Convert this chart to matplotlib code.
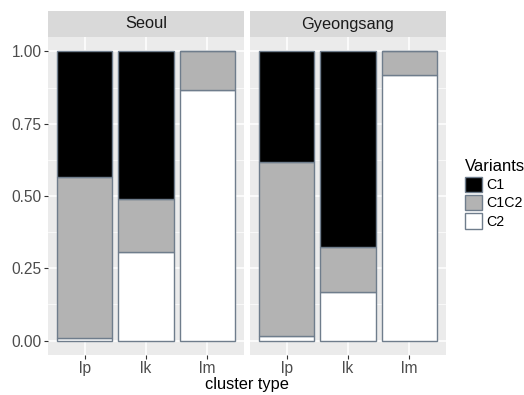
from matplotlib import pyplot as plt
from matplotlib.patches import Patch
import numpy as np

plt.rcParams['font.family'] = ['Liberation Sans', 'DejaVu Sans']

regions = ["Seoul", "Gyeongsang"]
clusters = ["lp", "lk", "lm"]
variants = ["C1", "C1C2", "C2"]
colors = {"C1": "#000000", "C1C2": "#B3B3B3", "C2": "#FFFFFF"}

# proportions per region, per cluster type (lp, lk, lm)
c2 = {"Seoul": [0.008, 0.305, 0.865], "Gyeongsang": [0.017, 0.167, 0.919]}
c1c2 = {"Seoul": [0.556, 0.185, 0.135], "Gyeongsang": [0.602, 0.156, 0.081]}
c1 = {"Seoul": [0.436, 0.510, 0.0], "Gyeongsang": [0.381, 0.677, 0.0]}

W, H = 524, 395
edge = "#6F7D8C"

def fx(px):
	return px / W

def fy(px):
	return 1 - px / H

def draw_panel(left, name, show_y):
	ax = plt.gcf().add_axes([fx(left), fy(355), fx(196), 318 / H])
	ax.set_facecolor("#EBEBEB")
	x = np.arange(len(clusters))
	bottom = np.zeros(len(clusters))
	for key, vals in (("C2", c2), ("C1C2", c1c2), ("C1", c1)):
		v = np.array(vals[name])
		ax.bar(x, v, 0.9, bottom=bottom, color=colors[key], edgecolor=edge, linewidth=1.0, zorder=3)
		bottom = bottom + v
	ax.set_xlim(-0.6, 2.6)
	ax.set_ylim(-0.05, 1.05)
	ax.set_xticks(x)
	ax.set_xticklabels(clusters)
	ax.set_yticks([0, 0.25, 0.5, 0.75, 1.0])
	ax.set_yticks([0.125, 0.375, 0.625, 0.875], minor=True)
	ax.grid(True, which="major", color="white", linewidth=1.1, zorder=0)
	ax.grid(True, which="minor", axis="y", color="white", linewidth=0.5, zorder=0)
	ax.tick_params(which="minor", length=0)
	ax.tick_params(which="major", length=3, color="#333333", labelsize=11.2, labelcolor="#4D4D4D", pad=1.5)
	if show_y:
		ax.set_yticklabels(["0.00", "0.25", "0.50", "0.75", "1.00"])
	else:
		ax.tick_params(axis="y", left=False, labelleft=False)
	for s in ax.spines.values():
		s.set_visible(False)
	# strip
	st = plt.gcf().add_axes([fx(left), fy(37), fx(196), 26 / H])
	st.set_facecolor("#D9D9D9")
	st.set_xticks([])
	st.set_yticks([])
	for s in st.spines.values():
		s.set_visible(False)
	st.text(0.5, 0.5, name, ha="center", va="center", fontsize=11.8, color="#1A1A1A", transform=st.transAxes)
	return ax

def main():
	fig = plt.figure(figsize=(W / 100, H / 100), dpi=100)
	draw_panel(48, "Seoul", True)
	draw_panel(250, "Gyeongsang", False)
	fig.text(fx(247), fy(384), "cluster type", ha="center", va="center", fontsize=11.8, color="black")
	handles = [Patch(facecolor=colors[v], edgecolor=edge, label=v) for v in variants]
	leg = fig.legend(handles=handles, title="Variants", loc="upper left",
		bbox_to_anchor=(fx(459), fy(153)), frameon=False, fontsize=10.2,
		title_fontsize=12, handlelength=1.2, handleheight=1.3,
		labelspacing=0.2, handletextpad=0.35, borderaxespad=0)
	leg._legend_box.align = "left"
	fig.savefig("out.png", dpi=100)

if __name__ == "__main__":
	main()
